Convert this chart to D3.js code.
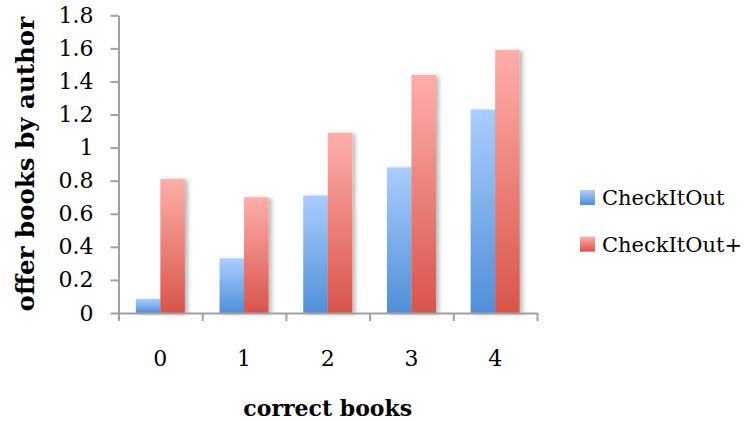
<!DOCTYPE html>
<html>
<head>
<meta charset="utf-8">
<script src="https://cdn.jsdelivr.net/npm/d3@7"></script>
<style>
  html, body { margin: 0; padding: 0; background: #fff; }
  svg { display: block; }
  text { font-family: "DejaVu Serif", "Liberation Serif", serif; fill: #000; }
</style>
</head>
<body>
<svg id="chart" width="744" height="421"></svg>
<script>
// Chart data
const categories = ["0", "1", "2", "3", "4"];
const seriesNames = ["CheckItOut", "CheckItOut+"];
const checkItOut = [0.085, 0.33, 0.71, 0.88, 1.23];
const checkItOutPlus = [0.81, 0.70, 1.09, 1.44, 1.59];
const yTicks = [0, 0.2, 0.4, 0.6, 0.8, 1, 1.2, 1.4, 1.6, 1.8];
const xTitle = "correct books";
const yTitle = "offer books by author";

const seriesValues = [checkItOut, checkItOutPlus];
const gradients = [
  { id: "gradBlue", top: "#aacdff", bottom: "#4f8fd7" },
  { id: "gradRed", top: "#ffaea9", bottom: "#d8544a" }
];

const svg = d3.select("#chart");
const plot = { left: 118.5, right: 537, top: 15.3, bottom: 313 };

const defs = svg.append("defs");
gradients.forEach(g => {
  const lg = defs.append("linearGradient")
    .attr("id", g.id).attr("x1", 0).attr("y1", 0).attr("x2", 0).attr("y2", 1);
  lg.append("stop").attr("offset", "0%").attr("stop-color", g.top);
  lg.append("stop").attr("offset", "100%").attr("stop-color", g.bottom);
});
const shadow = defs.append("filter").attr("id", "barShadow")
  .attr("x", "-20%").attr("y", "-10%").attr("width", "160%").attr("height", "130%");
shadow.append("feDropShadow")
  .attr("dx", 3).attr("dy", 1).attr("stdDeviation", 2)
  .attr("flood-color", "#000").attr("flood-opacity", 0.28);

// Scales
const x = d3.scaleBand().domain(categories).range([plot.left, plot.right])
  .paddingInner(0).paddingOuter(0);
const xInner = d3.scaleBand().domain(d3.range(seriesNames.length))
  .range([0, x.bandwidth()]).paddingInner(0).paddingOuter(0.708);
const xEdges = d3.scaleLinear().domain([0, categories.length]).range([plot.left, plot.right]);
const y = d3.scaleLinear().domain([0, 1.8]).range([plot.bottom, plot.top]);

// Bars
const groups = svg.append("g").selectAll("g")
  .data(categories)
  .join("g")
  .attr("transform", d => `translate(${x(d)},0)`);

groups.selectAll("rect")
  .data((d, i) => seriesValues.map((vals, s) => ({ s, v: vals[i] })))
  .join("rect")
  .attr("x", d => xInner(d.s))
  .attr("width", xInner.bandwidth())
  .attr("y", d => y(d.v))
  .attr("height", d => y(0) - y(d.v))
  .attr("fill", d => `url(#${gradients[d.s].id})`)
  .attr("filter", "url(#barShadow)");

const axisColor = "#a0a0a0";

// Y axis
const yAxis = svg.append("g")
  .attr("transform", `translate(${plot.left},0)`)
  .call(d3.axisLeft(y).tickValues(yTicks).tickSize(8).tickSizeOuter(0).tickPadding(17)
    .tickFormat(d3.format("~g")));
yAxis.select(".domain").attr("stroke", axisColor).attr("stroke-width", 2);
yAxis.selectAll(".tick line").attr("stroke", axisColor).attr("stroke-width", 2);
yAxis.selectAll(".tick text").attr("font-size", 22).attr("font-family", "DejaVu Serif").attr("fill", "#000");

// X axis: boundary ticks
const xAxis = svg.append("g")
  .attr("transform", `translate(0,${plot.bottom})`)
  .call(d3.axisBottom(xEdges).tickValues(d3.range(categories.length + 1))
    .tickSize(8).tickSizeOuter(0).tickFormat(""));
xAxis.select(".domain").attr("stroke", axisColor).attr("stroke-width", 2);
xAxis.selectAll(".tick line").attr("stroke", axisColor).attr("stroke-width", 2);

// X axis: category labels
const xLabels = svg.append("g")
  .attr("transform", `translate(0,${plot.bottom})`)
  .call(d3.axisBottom(x).tickSize(0).tickSizeOuter(0).tickPadding(37));
xLabels.select(".domain").remove();
xLabels.selectAll(".tick text").attr("font-size", 22).attr("font-family", "DejaVu Serif").attr("fill", "#000");

// Axis titles
svg.append("text")
  .attr("x", (plot.left + plot.right) / 2)
  .attr("y", 416)
  .attr("text-anchor", "middle")
  .attr("font-size", 22)
  .attr("font-weight", "bold")
  .text(xTitle);

svg.append("text")
  .attr("transform", `translate(34,${(plot.top + plot.bottom) / 2}) rotate(-90)`)
  .attr("text-anchor", "middle")
  .attr("font-size", 24.5)
  .attr("font-weight", "bold")
  .text(yTitle);

// Legend
const legend = svg.append("g").attr("transform", "translate(580,190)");
const items = legend.selectAll("g")
  .data(seriesNames)
  .join("g")
  .attr("transform", (d, i) => `translate(0,${i * 46.7})`);
items.append("rect")
  .attr("width", 15).attr("height", 15)
  .attr("fill", (d, i) => `url(#${gradients[i].id})`);
items.append("text")
  .attr("x", 22).attr("y", 7.5).attr("dy", "0.35em")
  .attr("font-size", 21)
  .text(d => d);
</script>
</body>
</html>
